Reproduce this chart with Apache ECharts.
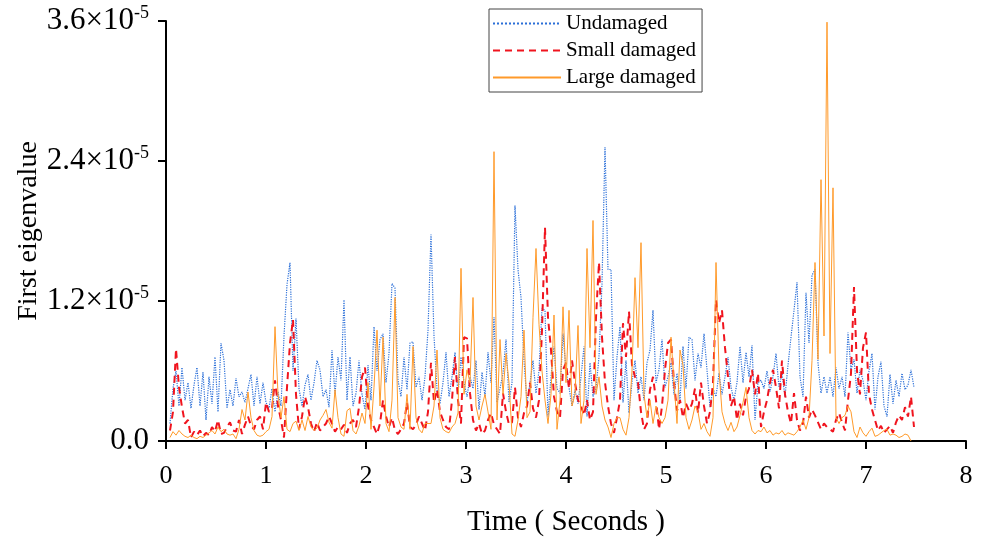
<!DOCTYPE html>
<html>
<head>
<meta charset="utf-8">
<title>First eigenvalue</title>
<script src="https://cdn.jsdelivr.net/npm/echarts@6/dist/echarts.min.js"></script>
<style>
  html, body { margin: 0; padding: 0; background: #fff; }
  #chart { width: 981px; height: 547px; }
</style>
</head>
<body>
<div id="chart"></div>
<script>
// sampling of all three records (seconds)
const t0 = 0.04
const dt = 0.03

// first eigenvalue, in units of 1e-6
const undamaged = [
  1.5, 4.5, 6.0, 3.0, 6.3, 3.5, 5.0, 2.8, 4.8, 6.3, 3.0, 5.9, 1.8, 5.5, 3.2, 7.2, 2.5, 8.4, 6.9, 2.8, 4.4, 3.0, 5.4, 3.8, 4.2, 3.3, 4.5, 5.7, 3.0, 5.5, 3.2, 5.0, 3.3,
  2.8, 4.5, 2.5, 4.2, 3.0, 9.0, 13.4, 15.3, 6.0, 10.5, 4.5, 3.0, 4.8, 5.7, 3.5, 5.0, 6.9, 6.1, 3.8, 4.4, 2.9, 7.8, 4.0, 7.2, 5.2, 12.1, 3.5, 7.2, 3.0, 4.1, 6.9, 4.0, 2.7,
  6.5, 3.5, 9.8, 6.0, 8.7, 9.2, 5.0, 7.5, 13.5, 13.1, 5.2, 3.8, 7.2, 4.4, 8.4, 8.5, 4.6, 5.5, 3.5, 5.5, 9.5, 17.7, 9.0, 4.4, 3.2, 5.0, 7.6, 3.8, 5.5, 7.6, 4.0, 7.2, 5.0,
  3.8, 5.5, 4.5, 6.9, 2.7, 5.9, 3.8, 7.6, 5.0, 10.6, 3.3, 4.5, 5.8, 8.7, 3.3, 5.0, 20.2, 14.7, 12.3, 6.9, 3.3, 5.0, 6.9, 4.1, 6.0, 11.4, 11.2, 2.1, 5.5, 8.1, 4.5, 4.1, 9.2,
  6.0, 4.6, 3.0, 4.4, 3.2, 5.5, 8.1, 2.1, 6.7, 3.8, 4.5, 7.2, 13.5, 25.2, 14.7, 14.7, 3.5, 7.2, 9.8, 3.3, 6.9, 2.4, 5.0, 6.9, 4.1, 5.5, 3.5, 6.7, 7.8, 11.2, 5.0, 6.1, 8.7,
  4.6, 5.5, 6.7, 4.0, 5.8, 3.5, 8.1, 4.5, 8.9, 8.7, 5.2, 7.5, 6.3, 9.2, 6.1, 2.9, 4.5, 3.8, 5.8, 4.0, 5.5, 7.2, 4.6, 3.5, 5.0, 8.1, 5.0, 7.6, 5.5, 8.2, 1.8, 5.0, 5.2,
  4.5, 6.0, 4.2, 5.5, 7.5, 4.6, 5.8, 3.8, 6.5, 8.9, 11.2, 13.6, 5.5, 3.8, 12.7, 8.4, 14.2, 14.7, 6.7, 4.1, 5.5, 4.1, 5.5, 3.8, 6.3, 4.5, 5.5, 3.8, 9.3, 6.1, 7.0, 4.1, 6.1,
  5.2, 3.5, 6.0, 7.5, 2.7, 5.5, 6.8, 3.0, 2.1, 5.7, 3.2, 5.2, 3.8, 5.8, 4.4, 4.8, 6.1, 4.6
]

const smallDamaged = [
  0.9, 2.5, 7.9, 4.6, 2.9, 1.5, 1.8, 0.3, 0.8, 0.5, 0.9, 0.4, 0.7, 0.5, 1.2, 0.8, 1.8, 0.6, 0.7, 1.2, 1.6, 0.9, 0.8, 1.8, 0.6, 1.4, 2.1, 1.3, 1.0, 1.8, 2.1, 1.0, 3.3,
  2.5, 2.8, 5.2, 3.0, 1.8, 0.3, 4.6, 8.4, 10.4, 4.0, 1.0, 2.1, 3.8, 2.9, 1.5, 0.8, 1.6, 0.9, 1.2, 1.5, 2.1, 1.5, 0.8, 1.2, 1.0, 1.4, 0.7, 1.5, 1.8, 1.2, 2.9, 5.5, 6.3,
  3.0, 1.8, 1.2, 0.6, 1.5, 3.5, 2.1, 1.2, 2.0, 0.9, 0.6, 1.0, 1.5, 3.3, 1.2, 1.0, 1.4, 2.1, 1.5, 0.9, 2.5, 6.7, 3.3, 4.4, 2.5, 1.8, 1.2, 1.0, 3.5, 7.2, 3.5, 1.5, 8.9,
  8.8, 4.1, 1.8, 0.9, 1.5, 0.6, 0.9, 1.8, 2.4, 1.4, 1.0, 0.6, 4.1, 2.5, 1.4, 1.6, 4.6, 2.0, 1.2, 2.4, 3.0, 5.0, 2.8, 2.0, 3.5, 9.5, 18.3, 10.6, 7.8, 3.8, 2.5, 2.0, 6.1,
  6.7, 4.5, 6.9, 5.0, 3.5, 3.0, 2.2, 3.5, 1.8, 2.5, 10.6, 15.3, 8.9, 5.0, 3.0, 1.5, 0.7, 2.0, 3.5, 10.1, 7.2, 11.1, 6.5, 5.5, 5.0, 2.5, 1.0, 1.5, 4.4, 5.5, 3.5, 1.0, 3.0,
  6.1, 8.4, 8.7, 5.0, 2.6, 3.5, 2.0, 3.2, 2.6, 3.2, 4.5, 2.4, 5.0, 3.0, 1.5, 2.5, 5.0, 12.1, 10.1, 11.2, 8.0, 5.5, 3.0, 3.8, 1.8, 3.2, 2.2, 3.8, 4.5, 6.1, 4.0, 5.8, 1.2,
  2.5, 3.5, 5.0, 6.1, 4.6, 2.8, 6.9, 4.0, 2.5, 1.5, 4.1, 1.8, 0.9, 1.5, 3.8, 2.0, 2.7, 2.2, 1.6, 1.0, 1.5, 1.2, 1.0, 0.8, 1.8, 2.4, 1.6, 0.9, 3.5, 5.8, 13.2, 6.0, 4.0,
  8.0, 9.3, 4.0, 2.7, 1.8, 0.9, 1.3, 0.7, 1.0, 1.3, 0.7, 1.6, 2.2, 1.8, 2.9, 2.1, 3.8, 1.2
]

const largeDamaged = [
  0.3, 0.8, 0.5, 0.9, 0.6, 0.4, 0.3, 0.5, 0.3, 0.2, 0.4, 0.3, 0.5, 0.7, 0.9, 0.6, 1.2, 0.8, 1.0, 0.6, 0.5, 0.6, 0.2, 1.0, 2.7, 1.8, 4.2, 2.0, 0.9, 0.5, 0.4, 0.5, 0.8,
  1.0, 2.1, 9.8, 4.0, 2.0, 3.8, 1.0, 0.8, 1.5, 1.7, 0.9, 1.8, 0.9, 2.1, 1.2, 0.9, 1.1, 1.8, 2.2, 2.7, 1.6, 1.1, 4.4, 2.0, 0.6, 0.4, 2.6, 2.8, 0.9, 0.6, 1.3, 2.4,
  1.5, 5.0, 1.0, 4.6, 9.5, 3.0, 8.9, 1.5, 0.8, 3.5, 12.3, 2.0, 1.2, 1.0, 4.0, 1.0, 8.1, 2.0, 1.0, 0.7, 1.5, 1.5, 1.5, 3.0, 7.8, 2.0, 1.0, 0.8, 0.7, 1.2, 1.5, 2.4, 14.8,
  4.0, 6.1, 5.0, 12.3, 3.0, 1.8, 3.0, 4.0, 2.5, 1.0, 24.8, 1.8, 8.7, 4.0, 7.5, 5.0, 0.6, 0.4, 1.8, 3.8, 9.5, 2.0, 2.5, 10.6, 16.5, 10.0, 6.0, 3.5, 1.5, 4.0, 10.8, 1.0, 3.5,
  11.5, 5.0, 11.2, 3.0, 4.0, 9.9, 1.5, 3.5, 16.5, 8.0, 18.9, 4.0, 5.5, 3.0, 1.8, 1.2, 0.3, 1.5, 2.0, 2.0, 1.0, 0.5, 2.0, 6.0, 14.0, 8.0, 17.0, 4.0, 2.0, 3.5, 1.5, 3.0, 2.0,
  1.5, 2.0, 3.5, 8.9, 5.0, 1.5, 7.8, 6.5, 2.0, 1.0, 1.8, 3.0, 2.5, 1.0, 1.5, 0.8, 0.4, 2.0, 15.3, 6.1, 2.5, 1.5, 0.9, 1.6, 0.8, 1.2, 2.2, 3.3, 4.6, 2.0, 0.9, 0.6, 0.9,
  0.8, 1.2, 0.7, 0.9, 0.5, 0.7, 0.6, 0.9, 0.5, 0.7, 0.6, 0.5, 0.8, 1.2, 1.8, 1.0, 2.0, 6.9, 15.3, 7.0, 22.4, 9.0, 35.9, 7.5, 21.7, 2.0, 1.5, 2.0, 2.2, 3.0, 2.5, 0.8, 0.3,
  1.2, 0.7, 0.4, 0.8, 1.1, 0.4, 0.5, 0.7, 0.9, 1.0, 0.5, 0.6, 0.5, 0.3, 0.4, 0.6, 0.5, 0.0
]

const xTicks = [0, 1, 2, 3, 4, 5, 6, 7, 8]
const yTicks = [0, 12, 24, 36]

const serif = 'Liberation Serif'

function pairs(values) {
  return values.map((v, i) => [+(t0 + i * dt).toFixed(2), v])
}

const chart = echarts.init(document.getElementById('chart'))

chart.setOption({
  animation: false,
  grid: {
    left: 166,
    right: 15,
    top: 21,
    bottom: 106
  },
  legend: {
    orient: 'vertical',
    left: 489,
    top: 9,
    padding: [4, 6, 4, 3],
    itemWidth: 68,
    itemHeight: 12,
    itemGap: 6,
    borderColor: '#444',
    borderWidth: 1,
    itemStyle: { opacity: 0 },
    textStyle: {
      fontFamily: serif,
      fontSize: 21,
      color: '#000'
    },
    data: ['Undamaged', 'Small damaged', 'Large damaged']
  },
  xAxis: {
    type: 'value',
    min: xTicks[0],
    max: xTicks[xTicks.length - 1],
    interval: 1,
    name: 'Time ( Seconds )',
    nameLocation: 'middle',
    nameGap: 67,
    nameTextStyle: { fontFamily: serif, fontSize: 29, color: '#000' },
    splitLine: { show: false },
    axisLine: { lineStyle: { color: '#000', width: 2 } },
    axisTick: { length: 8, lineStyle: { color: '#000', width: 2 } },
    axisLabel: {
      margin: 22,
      fontFamily: serif,
      fontSize: 26,
      color: '#000'
    }
  },
  yAxis: {
    type: 'value',
    min: yTicks[0],
    max: yTicks[yTicks.length - 1],
    interval: 12,
    name: 'First eigenvalue',
    nameLocation: 'middle',
    nameGap: 123,
    nameMoveOverlap: false,
    nameTextStyle: { fontFamily: serif, fontSize: 28, color: '#000' },
    splitLine: { show: false },
    axisLine: { show: true, lineStyle: { color: '#000', width: 2 } },
    axisTick: { show: true, length: 8, lineStyle: { color: '#000', width: 2 } },
    axisLabel: {
      margin: 17,
      fontFamily: serif,
      fontSize: 31,
      color: '#000',
      formatter: function (v) {
        if (v === 0) return '0.0'
        return '{m|' + (v / 10).toFixed(1) + '×10}{s|-5}'
      },
      rich: {
        m: { fontFamily: serif, fontSize: 31, color: '#000' },
        s: { fontFamily: serif, fontSize: 18, color: '#000', padding: [0, 0, 16, 0] }
      }
    }
  },
  series: [{
    name: 'Undamaged',
    type: 'line',
    symbol: 'none',
    data: pairs(undamaged),
    lineStyle: { color: '#2b6fd8', width: 1.2, type: 'dotted' },
    itemStyle: { color: '#2b6fd8' }
  }, {
    name: 'Small damaged',
    type: 'line',
    symbol: 'none',
    data: pairs(smallDamaged),
    lineStyle: { color: '#f0141e', width: 2, type: [7, 5] },
    itemStyle: { color: '#f0141e' }
  }, {
    name: 'Large damaged',
    type: 'line',
    symbol: 'none',
    data: pairs(largeDamaged),
    lineStyle: { color: '#ff9a2a', width: 1 },
    itemStyle: { color: '#ff9a2a' }
  }]
})
</script>
</body>
</html>
